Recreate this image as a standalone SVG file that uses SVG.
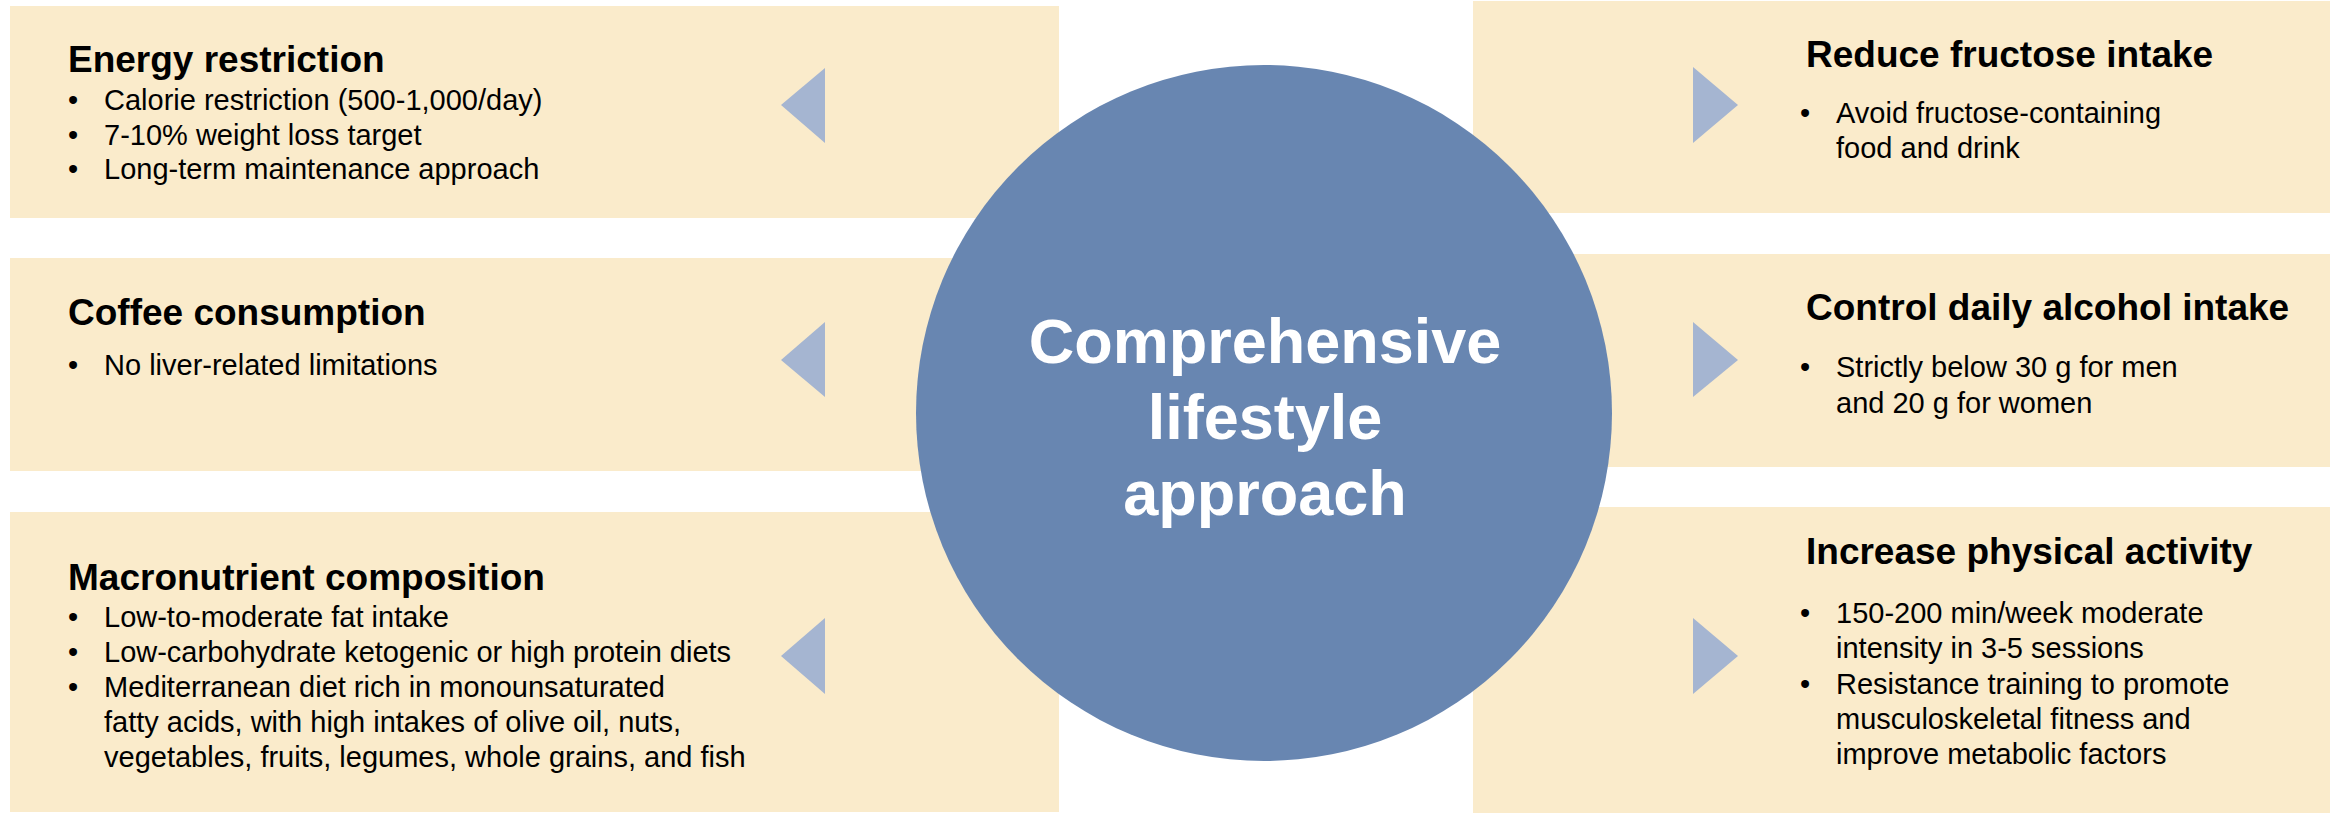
<svg xmlns="http://www.w3.org/2000/svg" width="2339" height="813" viewBox="0 0 2339 813">
  <style>
    .box { fill: #FAEBCB; }
    .hub { fill: #6886B1; }
    .tri { fill: #A5B5D1; }
    .title { font-family: "Liberation Sans", Arial, sans-serif; font-weight: bold; font-size: 37px; fill: #000; }
    .item { font-family: "Liberation Sans", Arial, sans-serif; font-size: 29px; fill: #000; }
    .hubtext { font-family: "Liberation Sans", Arial, sans-serif; font-weight: bold; font-size: 63px; fill: #fff; text-anchor: middle; }
  </style>

  <!-- Left column -->
  <g id="energy-restriction">
    <rect class="box" x="10" y="6" width="1049" height="212"/>
    <text class="title" x="68" y="72">Energy restriction</text>
    <text class="item" x="68" y="110">•</text><text class="item" x="104" y="110">Calorie restriction (500-1,000/day)</text>
    <text class="item" x="68" y="145">•</text><text class="item" x="104" y="145">7-10% weight loss target</text>
    <text class="item" x="68" y="179">•</text><text class="item" x="104" y="179">Long-term maintenance approach</text>
  </g>

  <g id="coffee-consumption">
    <rect class="box" x="10" y="258" width="1049" height="213"/>
    <text class="title" x="68" y="325">Coffee consumption</text>
    <text class="item" x="68" y="375">•</text><text class="item" x="104" y="375">No liver-related limitations</text>
  </g>

  <g id="macronutrient-composition">
    <rect class="box" x="10" y="512" width="1049" height="300"/>
    <text class="title" x="68" y="590">Macronutrient composition</text>
    <text class="item" x="68" y="627">•</text><text class="item" x="104" y="627">Low-to-moderate fat intake</text>
    <text class="item" x="68" y="662">•</text><text class="item" x="104" y="662">Low-carbohydrate ketogenic or high protein diets</text>
    <text class="item" x="68" y="697">•</text><text class="item" x="104" y="697">Mediterranean diet rich in monounsaturated</text>
    <text class="item" x="104" y="732">fatty acids, with high intakes of olive oil, nuts,</text>
    <text class="item" x="104" y="767">vegetables, fruits, legumes, whole grains, and fish</text>
  </g>

  <!-- Right column -->
  <g id="reduce-fructose">
    <rect class="box" x="1473" y="1" width="857" height="212"/>
    <text class="title" x="1806" y="67">Reduce fructose intake</text>
    <text class="item" x="1800" y="123">•</text><text class="item" x="1836" y="123">Avoid fructose-containing</text>
    <text class="item" x="1836" y="158">food and drink</text>
  </g>

  <g id="control-alcohol">
    <rect class="box" x="1473" y="254" width="857" height="213"/>
    <text class="title" x="1806" y="320">Control daily alcohol intake</text>
    <text class="item" x="1800" y="377">•</text><text class="item" x="1836" y="377">Strictly below 30 g for men</text>
    <text class="item" x="1836" y="413">and 20 g for women</text>
  </g>

  <g id="physical-activity">
    <rect class="box" x="1473" y="507" width="857" height="306"/>
    <text class="title" x="1806" y="564">Increase physical activity</text>
    <text class="item" x="1800" y="623">•</text><text class="item" x="1836" y="623">150-200 min/week moderate</text>
    <text class="item" x="1836" y="658">intensity in 3-5 sessions</text>
    <text class="item" x="1800" y="694">•</text><text class="item" x="1836" y="694">Resistance training to promote</text>
    <text class="item" x="1836" y="729">musculoskeletal fitness and</text>
    <text class="item" x="1836" y="764">improve metabolic factors</text>
  </g>

  <!-- Central hub -->
  <g id="hub">
    <circle class="hub" cx="1264" cy="413" r="348"/>
    <text class="hubtext" x="1265" y="363">Comprehensive</text>
    <text class="hubtext" x="1265" y="439">lifestyle</text>
    <text class="hubtext" x="1265" y="515">approach</text>
  </g>

  <!-- Connectors: arrowheads pointing from the hub towards each box -->
  <g id="connectors">
    <polygon class="tri" points="781,105 825,68 825,143"/>
    <polygon class="tri" points="781,360 825,322 825,397"/>
    <polygon class="tri" points="781,656 825,618 825,694"/>
    <polygon class="tri" points="1738,105 1693,67 1693,143"/>
    <polygon class="tri" points="1738,360 1693,322 1693,397"/>
    <polygon class="tri" points="1738,656 1693,618 1693,694"/>
  </g>
</svg>
